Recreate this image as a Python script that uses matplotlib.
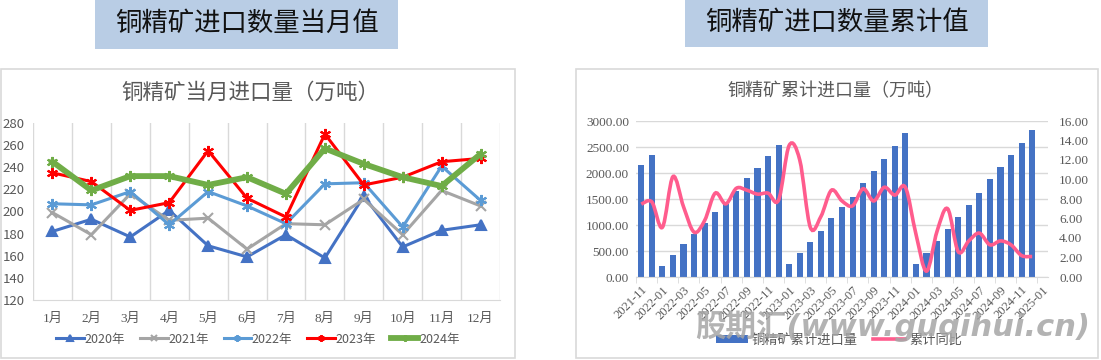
"""Copper concentrate imports: monthly values and cumulative values."""

import numpy as np
import pandas as pd
import matplotlib

matplotlib.use("Agg")

import matplotlib.pyplot as plt
from matplotlib.lines import Line2D
from matplotlib.patches import PathPatch, Rectangle
from matplotlib.path import Path

plt.rcParams["font.family"] = ["Noto Sans CJK SC", "DejaVu Sans"]

W, H = 1101, 360

# monthly imports, 10k tonnes
months = ["1月", "2月", "3月", "4月", "5月", "6月",
          "7月", "8月", "9月", "10月", "11月", "12月"]
y2020 = [182, 193, 177, 201, 169, 159, 179, 158, 214, 168, 183, 188]
y2021 = [199, 179, 216, 192, 194, 166, 189, 188, 211, 179, 219, 205]
y2022 = [207, 206, 218, 188, 218, 205, 189, 225, 226, 186, 241, 210]
y2023 = [235, 227, 201, 208, 255, 212, 195, 270, 224, 231, 245, 248]
y2024 = [245, 219, 232, 232, 224, 231, 216, 257, 243, 231, 223, 252]

# cumulative imports (bars) and cumulative YoY % (line), 2021-11 .. 2025-01
cum_dates = list(pd.period_range("2021-11", "2025-01", freq="M").strftime("%Y-%m"))
cum_import = [2146, 2345, 218, 430, 642, 822, 1047, 1259, 1400, 1651, 1901, 2088,
              2332, 2537, 244, 469, 675, 887, 1131, 1355, 1535, 1813, 2032, 2265,
              2516, 2768, 245, 471, 690, 929, 1161, 1387, 1613, 1877, 2110, 2342,
              2568, 2826]
cum_yoy = [7.47, 7.7, 5.1, 10.3, 7.2, 4.6, 5.8, 8.6, 7.5, 9.1, 8.9, 8.5,
           8.6, 7.9, 13.5, 12.0, 5.1, 6.2, 8.9, 7.8, 7.3, 9.05, 7.8, 9.2,
           8.4, 9.2, 4.4, 0.6, 4.7, 7.0, 2.6, 3.7, 4.5, 3.3, 3.7, 3.3,
           2.2, 2.1]

GRAY_TXT = "#595959"
GRID = "#D9D9D9"
SERIF = ["Liberation Serif", "Noto Sans CJK SC"]


def px_axes(fig, x0, y0, x1, y1, **kw):
    return fig.add_axes([x0 / W, 1 - y1 / H, (x1 - x0) / W, (y1 - y0) / H], **kw)


def smooth_path(x, y):
    # Excel-like smoothed line: cubic Bezier segments through every point
    pts = np.column_stack([x, y]).astype(float)
    n = len(pts)
    verts, codes = [pts[0]], [Path.MOVETO]
    for i in range(n - 1):
        p0 = pts[i - 1] if i > 0 else pts[i]
        p1, p2 = pts[i], pts[i + 1]
        p3 = pts[i + 2] if i + 2 < n else pts[i + 1]
        verts += [p1 + (p2 - p0) / 6, p2 - (p3 - p1) / 6, p2]
        codes += [Path.CURVE4] * 3
    return Path(verts, codes)


fig = plt.figure(figsize=(W / 100, H / 100), dpi=100)

# background: cards and header boxes, drawn in pixel coords
bg = px_axes(fig, 0, 0, W, H, zorder=-5)
bg.set_xlim(0, W)
bg.set_ylim(H, 0)
bg.axis("off")
for x0, y0, x1, y1 in [(1, 69, 515, 358), (576, 69, 1098, 358)]:
    bg.add_patch(Rectangle((x0, y0), x1 - x0, y1 - y0, fill=False,
                           edgecolor=GRID, lw=1.2))
for x0, x1, y1, label in [(95, 398, 49, "铜精矿进口数量当月值"),
                          (685, 988, 47, "铜精矿进口数量累计值")]:
    bg.add_patch(Rectangle((x0, 0), x1 - x0, y1, facecolor="#B9CDE5",
                           edgecolor="none"))
    bg.text((x0 + x1) / 2, y1 / 2 - 1, label, ha="center", va="center",
            fontsize=19, color="#111111")

# ---- left: monthly values ----
ax = px_axes(fig, 33, 123, 500, 300)
x = np.arange(len(months))
series = [
    ("2020年", y2020, "#4472C4", "^", 2.2, 7),
    ("2021年", y2021, "#A5A5A5", "x", 2.2, 7),
    ("2022年", y2022, "#5B9BD5", (6, 2, 0), 2.2, 8),
    ("2023年", y2023, "#FF0000", (6, 2, 0), 2.2, 8),
    ("2024年", y2024, "#70AD47", (6, 2, 0), 4.2, 8),
]
for name, vals, color, marker, lw, ms in series:
    ax.plot(x, vals, color=color, lw=lw, marker=marker, ms=ms,
            mew=1.5, label=name)
ax.set_xlim(-0.5, len(months) - 0.5)
ax.set_ylim(120, 280)
ax.set_yticks(range(120, 281, 20))
ax.set_xticks(x)
ax.set_xticklabels(months, family=SERIF)
ax.set_xticks(np.arange(-0.5, len(months), 1), minor=True)
ax.grid(True, which="minor", axis="x", color=GRID, lw=1)
ax.tick_params(which="both", length=0)
ax.tick_params(axis="x", pad=9, labelsize=9.5, colors=GRAY_TXT)
ax.tick_params(axis="y", pad=6, labelsize=9.5, colors=GRAY_TXT)
for s in ["top", "right", "left"]:
    ax.spines[s].set_visible(False)
ax.spines["bottom"].set_color(GRID)
ax.set_axisbelow(True)
fig.text(250 / W, 1 - 93 / H, "铜精矿当月进口量（万吨）", ha="center",
         va="center", fontsize=15.5, color=GRAY_TXT)
ax.legend(loc="center", bbox_to_anchor=(258 / W, 1 - 339 / H),
          bbox_transform=fig.transFigure, ncol=5, frameon=False,
          fontsize=9, handlelength=2.2, handletextpad=0.05, markerscale=0.6,
          columnspacing=1.2, labelcolor=GRAY_TXT)

# ---- right: cumulative values ----
axb = px_axes(fig, 636, 121, 1048, 277)
xc = np.arange(len(cum_dates))
bars = axb.bar(xc[:len(cum_import)], cum_import, width=0.58, color="#4472C4",
               label="铜精矿累计进口量", zorder=2)
axb.set_xlim(-0.5, len(cum_dates) - 0.5)
axb.set_ylim(0, 3000)
axb.set_yticks(range(0, 3001, 500))
axb.set_yticklabels([f"{v:.2f}" for v in range(0, 3001, 500)], family=SERIF)
axb.grid(True, axis="y", color=GRID, lw=1, zorder=0)
axb.set_axisbelow(True)
axb.set_xticks(xc[::2])
axb.set_xticklabels(cum_dates[::2], rotation=45, ha="right",
                    rotation_mode="anchor", family=SERIF)
axb.set_xticks(np.arange(-0.5, len(cum_dates), 2), minor=True)
axb.tick_params(axis="x", which="major", length=0, pad=5, labelsize=9,
                colors=GRAY_TXT)
axb.tick_params(axis="x", which="minor", length=4, color=GRID)
axb.tick_params(axis="y", length=0, pad=5, labelsize=9.5, colors=GRAY_TXT)
for s in ["top", "right", "left"]:
    axb.spines[s].set_visible(False)
axb.spines["bottom"].set_color(GRID)

axr = axb.twinx()
pink = "#FF5C8D"
axr.add_patch(PathPatch(smooth_path(xc[:len(cum_yoy)], cum_yoy),
                        facecolor="none", edgecolor=pink, lw=2.6, zorder=3))
axr.set_ylim(0, 16)
axr.set_yticks(range(0, 17, 2))
axr.set_yticklabels([f"{v:.2f}" for v in range(0, 17, 2)], family=SERIF)
axr.tick_params(axis="y", length=0, pad=8, labelsize=9.5, colors=GRAY_TXT)
for s in axr.spines.values():
    s.set_visible(False)

fig.text(835 / W, 1 - 91 / H, "铜精矿累计进口量（万吨）", ha="center",
         va="center", fontsize=13, color=GRAY_TXT)
line_handle = Line2D([], [], color=pink, lw=2.6)
axr.legend([bars, line_handle], ["铜精矿累计进口量", "累计同比"], loc="center",
           bbox_to_anchor=(839 / W, 1 - 340 / H), bbox_transform=fig.transFigure,
           ncol=2, frameon=False, fontsize=9.5, handlelength=2.4,
           handleheight=0.5, handletextpad=0.3, columnspacing=1.2,
           labelcolor=GRAY_TXT)

# site watermark over the lower right
fig.text(893 / W, 1 - 326 / H, "股期汇(www.guqihui.cn)", ha="center",
         va="center", fontsize=22, weight="bold", style="italic",
         color="#A6A6A6", alpha=0.85, family=["DejaVu Sans", "Noto Sans CJK SC"],
         zorder=10)

fig.savefig("out.png", dpi=100)
